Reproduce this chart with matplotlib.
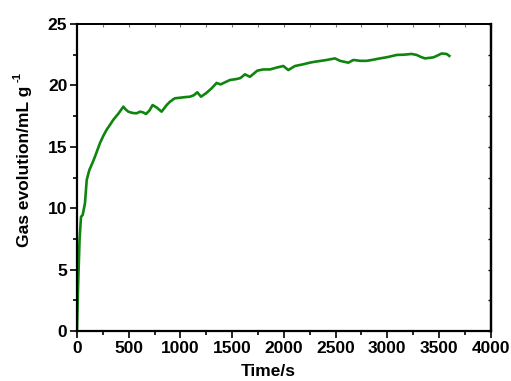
import matplotlib
matplotlib.use("Agg")
import matplotlib.pyplot as plt
from matplotlib.ticker import MultipleLocator

time_s = [0, 10, 25, 39, 55, 77, 94, 119, 150, 174, 200, 222, 255, 287, 320, 351, 400, 448,
          470, 496, 540, 577, 609, 640, 667, 700, 731, 770, 818, 867, 899, 931, 947,
          1000, 1050, 1092, 1130, 1163, 1199, 1247, 1300, 1350, 1389, 1430, 1479, 1544,
          1580, 1624, 1672, 1743, 1800, 1866, 1930, 1995, 2043, 2108, 2188, 2250, 2301,
          2360, 2414, 2494, 2543, 2623, 2672, 2740, 2801, 2870, 2930, 3000, 3091, 3160,
          3236, 3284, 3330, 3365, 3445, 3490, 3526, 3574, 3600]
gas_ml_g = [0.0, 3.5, 7.5, 9.3, 9.45, 10.4, 12.3, 13.1, 13.7, 14.2, 14.8, 15.3, 15.9, 16.4, 16.8, 17.2, 17.7, 18.27,
            18.05, 17.86, 17.75, 17.73, 17.86, 17.8, 17.67, 17.95, 18.4, 18.2, 17.86, 18.4, 18.67, 18.87, 18.95,
            19.0, 19.05, 19.08, 19.2, 19.44, 19.08, 19.36, 19.75, 20.2, 20.08, 20.25, 20.44, 20.52,
            20.6, 20.9, 20.7, 21.2, 21.3, 21.3, 21.45, 21.58, 21.25, 21.58, 21.72, 21.85, 21.93,
            22.0, 22.07, 22.2, 22.0, 21.85, 22.07, 22.0, 22.0, 22.1, 22.2, 22.3, 22.48, 22.5,
            22.56, 22.48, 22.3, 22.2, 22.28, 22.45, 22.6, 22.56, 22.4]

x_ticks = [0, 500, 1000, 1500, 2000, 2500, 3000, 3500, 4000]
y_ticks = [0, 5, 10, 15, 20, 25]

plt.rcParams['font.family'] = ['Liberation Sans', 'DejaVu Sans']

fig = plt.figure(figsize=(5.11, 3.81), dpi=100)
ax = fig.add_axes([77/511, 1 - 331/381, (490.7 - 77)/511, (331 - 24)/381])

ax.plot(time_s, gas_ml_g, color='#0f850f', lw=1.9, solid_joinstyle='round')

ax.set_xlim(0, 4000)
ax.set_ylim(0, 25)
ax.set_xticks(x_ticks)
ax.set_yticks(y_ticks)
ax.xaxis.set_minor_locator(MultipleLocator(250))
ax.yaxis.set_minor_locator(MultipleLocator(2.5))

ax.tick_params(which='both', direction='out', top=False, right=False, width=1.2,
               labelsize=12.5, pad=2)
ax.tick_params(which='major', length=5)
ax.tick_params(which='minor', length=3)
for lab in ax.get_xticklabels() + ax.get_yticklabels():
    lab.set_fontweight('bold')

# inner ticks on top and right
sec_x = ax.secondary_xaxis('top')
sec_x.set_xticks(x_ticks)
sec_x.xaxis.set_minor_locator(MultipleLocator(250))
sec_x.tick_params(which='both', direction='in', length=2, width=0.8, labeltop=False, color='#777777')
sec_y = ax.secondary_yaxis('right')
sec_y.set_yticks(y_ticks)
sec_y.yaxis.set_minor_locator(MultipleLocator(2.5))
sec_y.tick_params(which='both', direction='in', length=2, width=1.0, labelright=False)

for s in ['left', 'bottom', 'right']:
    ax.spines[s].set_linewidth(1.6)
ax.spines['top'].set_linewidth(1.3)
sec_x.spines['top'].set_linewidth(1.3)
sec_y.spines['right'].set_linewidth(1.6)

fig.text(25/511, 1 - 166/381, 'Gas evolution/mL g', rotation=90,
         ha='center', va='center', fontsize=12.5, fontweight='bold')
fig.text(18/511, 1 - 77/381, '-1', rotation=90, ha='center', va='center',
         fontsize=8, fontweight='bold')
fig.text(268/511, 1 - 372/381, 'Time/s', ha='center', va='center',
         fontsize=12.5, fontweight='bold')

fig.savefig('out.png', dpi=100)
